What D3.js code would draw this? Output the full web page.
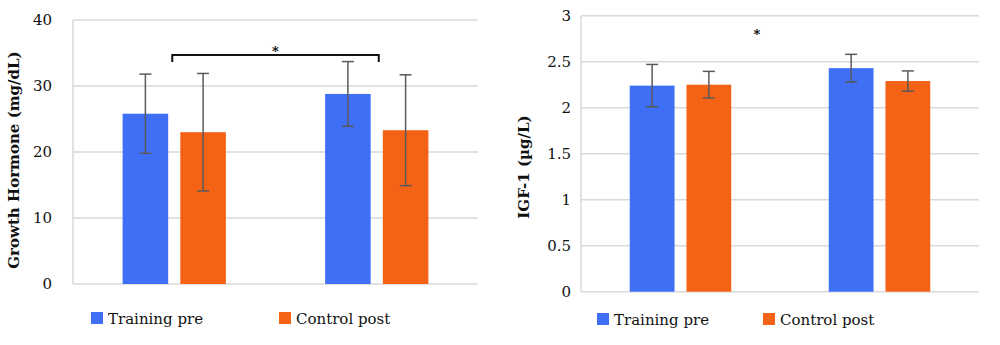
<!DOCTYPE html>
<html>
<head>
<meta charset="utf-8">
<script src="https://cdn.jsdelivr.net/npm/d3@7"></script>
<style>
  body { margin: 0; background: #fff; }
</style>
</head>
<body>
<div id="chart"></div>
<script>
// groups on the x axis (no labels drawn)
const groups = ["g1", "g2"]
const seriesNames = ["Training pre", "Control post"]
const seriesColors = ["#3f6ff5", "#f46216"]

// growth hormone (mg/dL): means and SDs per series, per group
const ghMeans = [[25.8, 28.8], [23.0, 23.3]]
const ghErr = [[6.0, 4.9], [8.9, 8.4]]
const ghTicks = [0, 10, 20, 30, 40]

// IGF-1 (µg/L)
const igfMeans = [[2.24, 2.43], [2.25, 2.29]]
const igfErr = [[0.23, 0.15], [0.145, 0.11]]
const igfTicks = [0, 0.5, 1, 1.5, 2, 2.5, 3]

const FONT = '"DejaVu Serif", serif'

const svg = d3.select("#chart").append("svg")
  .attr("width", 1000)
  .attr("height", 345)
  .style("font-family", FONT)

function drawPanel(opts) {
  const g = svg.append("g")
  const x = d3.scaleBand().domain(groups).range([opts.left, opts.right])
  const y = d3.scaleLinear().domain(opts.domain).range([opts.bottom, opts.top])
  const barW = x.bandwidth() * 0.225
  const gap = x.bandwidth() * 0.06

  // gridlines
  g.selectAll(".grid").data(opts.ticks).enter().append("line")
    .attr("x1", opts.left).attr("x2", opts.right)
    .attr("y1", d => y(d)).attr("y2", d => y(d))
    .attr("stroke", "#d9d9d9").attr("stroke-width", 1.5)

  // left border of plot
  g.append("line")
    .attr("x1", opts.left).attr("x2", opts.left)
    .attr("y1", y(opts.domain[1])).attr("y2", y(0))
    .attr("stroke", "#d9d9d9").attr("stroke-width", 1.5)

  // tick labels
  const axis = d3.axisLeft(y).tickValues(opts.ticks).tickFormat(d => String(d)).tickSize(0).tickPadding(0)
  const ax = g.append("g").attr("transform", "translate(" + (opts.left - opts.labelGap) + ",0)").call(axis)
  ax.attr("font-family", FONT).attr("font-size", 15)
  ax.select(".domain").remove()
  ax.selectAll("text").attr("fill", "#111")

  // axis title
  g.append("text")
    .attr("transform", "translate(" + opts.titleX + "," + opts.titleY + ") rotate(-90)")
    .attr("text-anchor", "middle")
    .attr("dominant-baseline", "middle")
    .attr("fill", "#111")
    .style("font-size", "15px").style("font-weight", "bold")
    .text(opts.title)

  // bars + error bars
  seriesNames.forEach((s, si) => {
    groups.forEach((grp, gi) => {
      const cx = x(grp) + x.bandwidth() / 2
      const bx = si === 0 ? cx - gap / 2 - barW : cx + gap / 2
      const v = opts.means[si][gi]
      const e = opts.err[si][gi]
      g.append("rect")
        .attr("x", bx).attr("y", y(v))
        .attr("width", barW).attr("height", y(0) - y(v))
        .attr("fill", seriesColors[si])
      const ex = bx + barW / 2
      g.append("line")
        .attr("x1", ex).attr("x2", ex)
        .attr("y1", y(v + e)).attr("y2", y(v - e))
        .attr("stroke", "#5a5a5a").attr("stroke-width", 1.5)
      ;[v + e, v - e].forEach(t => {
        g.append("line")
          .attr("x1", ex - 6).attr("x2", ex + 6)
          .attr("y1", y(t)).attr("y2", y(t))
          .attr("stroke", "#5a5a5a").attr("stroke-width", 1.5)
      })
    })
  })

  // legend
  seriesNames.forEach((s, si) => {
    const lx = opts.legendX[si]
    g.append("rect")
      .attr("x", lx).attr("y", opts.legendY - 12)
      .attr("width", 12).attr("height", 12)
      .attr("fill", seriesColors[si])
    g.append("text")
      .attr("x", lx + 17).attr("y", opts.legendY)
      .attr("fill", "#111")
      .style("font-size", "15px")
      .text(s)
  })

  return { x, y }
}

const left = drawPanel({
  left: 73, right: 478, top: 20, bottom: 284,
  domain: [0, 40], ticks: ghTicks,
  means: ghMeans, err: ghErr,
  labelGap: 21, titleX: 15, titleY: 160,
  title: "Growth Hormone (mg/dL)",
  legendX: [91, 279], legendY: 324
})

// significance bracket between the two training bars
{
  const x0 = left.x("g1") + left.x.bandwidth() / 2 - 2
  const x1 = left.x("g2") + left.x.bandwidth() / 2 + 2
  const yb = left.y(34.7)
  svg.append("path")
    .attr("d", "M" + x0 + "," + (yb + 7) + "V" + yb + "H" + x1 + "V" + (yb + 7))
    .attr("fill", "none").attr("stroke", "#111").attr("stroke-width", 2)
  svg.append("text")
    .attr("x", (x0 + x1) / 2).attr("y", yb + 1)
    .attr("text-anchor", "middle")
    .style("font-size", "13px").style("font-weight", "bold")
    .text("*")
}

const right = drawPanel({
  left: 581, right: 979, top: 15.7, bottom: 291.7,
  domain: [0, 3], ticks: igfTicks,
  means: igfMeans, err: igfErr,
  labelGap: 10, titleX: 525, titleY: 167,
  title: "IGF-1 (µg/L)",
  legendX: [597, 763], legendY: 325
})

svg.append("text")
  .attr("x", 757).attr("y", right.y(2.8) + 5)
  .attr("text-anchor", "middle")
  .style("font-size", "13px").style("font-weight", "bold")
  .text("*")
</script>
</body>
</html>
